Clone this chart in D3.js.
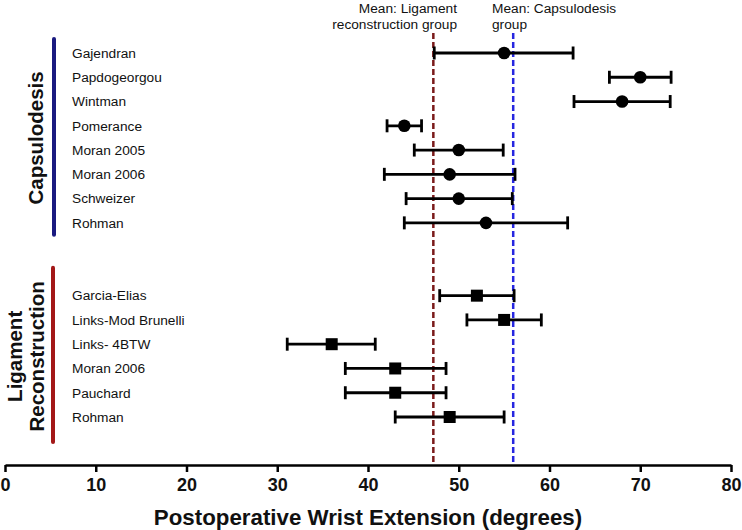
<!DOCTYPE html>
<html><head><meta charset="utf-8">
<script src="https://cdn.jsdelivr.net/npm/d3@7"></script>
<style>
body{margin:0;background:#fff;}
svg{display:block;font-family:"Liberation Sans",Arial,sans-serif;}
</style></head>
<body>
<svg id="chart" width="742" height="530"></svg>
<script>
// Data
const capNames = ["Gajendran","Papdogeorgou","Wintman","Pomerance","Moran 2005","Moran 2006","Schweizer","Rohman"];
const capMean  = [55.0, 70.0, 68.0, 44.0, 50.0, 49.0, 50.0, 53.0];
const capLow   = [47.3, 66.6, 62.7, 42.1, 45.1, 41.8, 44.2, 44.0];
const capHigh  = [62.6, 73.4, 73.3, 45.9, 54.9, 56.2, 55.9, 62.0];

const ligNames = ["Garcia-Elias","Links-Mod Brunelli","Links- 4BTW","Moran 2006","Pauchard","Rohman"];
const ligMean  = [52.0, 55.0, 36.0, 43.0, 43.0, 49.0];
const ligLow   = [47.9, 50.9, 31.1, 37.5, 37.5, 43.0];
const ligHigh  = [56.1, 59.1, 40.8, 48.6, 48.6, 55.0];

const groupMeans = [47.2, 56.0]; // ligament, capsulodesis
const meanLabels = [["Mean: Ligament","reconstruction group"],["Mean: Capsulodesis","group"]];
const xTicks = [0,10,20,30,40,50,60,70,80];
const xTitle = "Postoperative Wrist Extension (degrees)";

const svg = d3.select("#chart");
const x = d3.scaleLinear().domain([0,80]).range([5,731]);
// 16 row slots: 8 capsulodesis, 2 empty, 6 ligament
const y = d3.scaleLinear().domain([0,15]).range([53,417]);

const rows = [];
capNames.forEach((n,i)=>rows.push({name:n, mean:capMean[i], lo:capLow[i], hi:capHigh[i], idx:i, shape:"circle"}));
ligNames.forEach((n,i)=>rows.push({name:n, mean:ligMean[i], lo:ligLow[i], hi:ligHigh[i], idx:10+i, shape:"square"}));

// Mean dashed lines
const meanColors = ["#7a1a1a","#2626e0"];
svg.selectAll("line.mean").data(groupMeans).enter().append("line")
  .attr("x1",d=>x(d)).attr("x2",d=>x(d)).attr("y1",33).attr("y2",465)
  .attr("stroke",(d,i)=>meanColors[i]).attr("stroke-width",2.5).attr("stroke-dasharray","6,3");

// Mean labels
const ml = svg.append("g").attr("font-size",13.7).attr("fill","#111");
ml.append("text").attr("x",457).attr("y",13).attr("text-anchor","end").text(meanLabels[0][0]);
ml.append("text").attr("x",457).attr("y",29).attr("text-anchor","end").text(meanLabels[0][1]);
ml.append("text").attr("x",492).attr("y",13).attr("text-anchor","start").text(meanLabels[1][0]);
ml.append("text").attr("x",492).attr("y",29).attr("text-anchor","start").text(meanLabels[1][1]);

// Error bars
const g = svg.append("g");
const eb = g.selectAll("g.row").data(rows).enter().append("g");
eb.append("line").attr("x1",d=>x(d.lo)).attr("x2",d=>x(d.hi))
  .attr("y1",d=>y(d.idx)).attr("y2",d=>y(d.idx)).attr("stroke","#000").attr("stroke-width",2.8);
eb.append("line").attr("x1",d=>x(d.lo)).attr("x2",d=>x(d.lo))
  .attr("y1",d=>y(d.idx)-6.5).attr("y2",d=>y(d.idx)+6.5).attr("stroke","#000").attr("stroke-width",2.8);
eb.append("line").attr("x1",d=>x(d.hi)).attr("x2",d=>x(d.hi))
  .attr("y1",d=>y(d.idx)-6.5).attr("y2",d=>y(d.idx)+6.5).attr("stroke","#000").attr("stroke-width",2.8);
eb.filter(d=>d.shape==="circle").append("circle")
  .attr("cx",d=>x(d.mean)).attr("cy",d=>y(d.idx)).attr("r",6.3).attr("fill","#000");
eb.filter(d=>d.shape==="square").append("rect")
  .attr("x",d=>x(d.mean)-6).attr("y",d=>y(d.idx)-6).attr("width",12).attr("height",12).attr("fill","#000");

// Study labels
svg.append("g").selectAll("text").data(rows).enter().append("text")
  .attr("x",72).attr("y",d=>y(d.idx)).attr("dy","0.35em")
  .attr("font-size",13.7).attr("fill","#111").text(d=>d.name);

// Group bars
svg.append("line").attr("x1",54).attr("x2",54).attr("y1",y(0)-14).attr("y2",y(7)+12)
  .attr("stroke","#1a1a80").attr("stroke-width",4).attr("stroke-linecap","round");
svg.append("line").attr("x1",53).attr("x2",53).attr("y1",y(10)-28).attr("y2",y(15)+25)
  .attr("stroke","#a31818").attr("stroke-width",4).attr("stroke-linecap","round");

// Group labels
const gl = svg.append("g").attr("font-size",20.5).attr("font-weight","bold").attr("fill","#111").attr("text-anchor","middle");
gl.append("text").attr("transform",`translate(43,${(y(0)+y(7))/2}) rotate(-90)`).text("Capsulodesis");
gl.append("text").attr("transform",`translate(21.5,${(y(10)+y(15))/2}) rotate(-90)`).text("Ligament");
gl.append("text").attr("transform",`translate(43.5,${(y(10)+y(15))/2}) rotate(-90)`).text("Reconstruction");

// X axis
const ax = svg.append("g").attr("transform","translate(0,465)")
  .call(d3.axisBottom(x).tickValues(xTicks).tickSize(7).tickSizeOuter(0).tickPadding(6));
ax.select(".domain").attr("stroke","#000").attr("stroke-width",2.5);
ax.selectAll(".tick line").attr("stroke","#000").attr("stroke-width",2.5);
ax.selectAll(".tick text").attr("font-size",18).attr("font-weight","bold").attr("fill","#111")
  .attr("font-family","'Liberation Sans',Arial,sans-serif");

svg.append("text").attr("x",368).attr("y",525).attr("text-anchor","middle")
  .attr("font-size",22.3).attr("font-weight","bold").attr("fill","#111").text(xTitle);
</script>
</body></html>
